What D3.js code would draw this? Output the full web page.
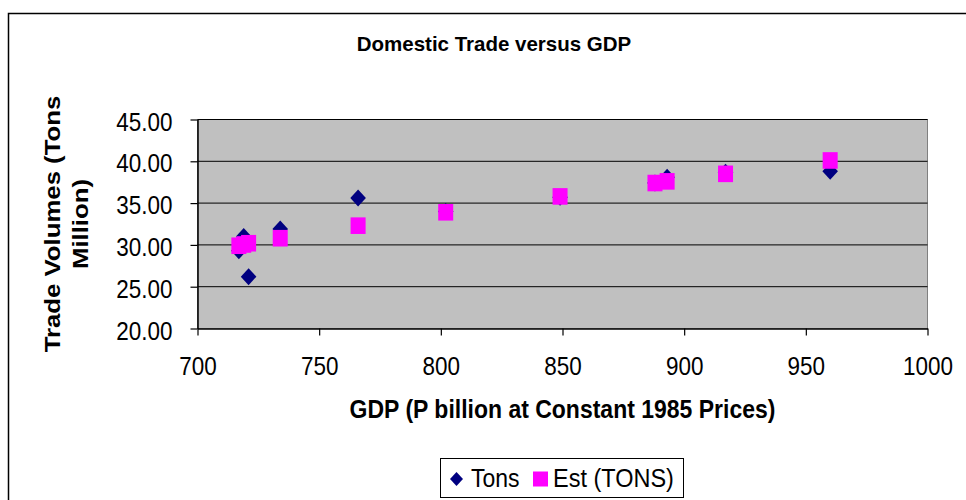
<!DOCTYPE html>
<html><head><meta charset="utf-8">
<script src="https://cdn.jsdelivr.net/npm/d3@7"></script>
<style>body{margin:0;background:#fff}svg{display:block}text{font-family:"Liberation Sans",Arial,sans-serif}</style>
</head><body><svg id="c" width="966" height="500"></svg>
<script>
const gdp  = [717, 719, 721, 734, 766, 802, 849, 888, 893, 917, 960];
const tons = [29.3, 31.0, 26.2, 31.9, 35.6, 34.0, 35.7, 37.4, 38.1, 38.7, 38.8];
const est  = [29.9, 30.05, 30.2, 30.8, 32.3, 33.9, 35.8, 37.4, 37.6, 38.5, 40.1];
const xTicks = [700, 750, 800, 850, 900, 950, 1000];
const yTicks = [20, 25, 30, 35, 40, 45];
const titleText = "Domestic Trade versus GDP";
const xLabel = "GDP (P billion at Constant 1985 Prices)";
const yLabel = ["Trade Volumes (Tons", "Million)"];
const legendNames = ["Tons", "Est (TONS)"];

const svg = d3.select("#c");
const SY = 1.12;
const x = d3.scaleLinear().domain([700, 1000]).range([197.5, 927.5]);
const y = d3.scaleLinear().domain([20, 45]).range([328.5, 119.5]);

// outer border
svg.append("rect").attr("x", 8.5).attr("y", 13.5).attr("width", 1200).attr("height", 1000)
  .attr("fill", "#fff").attr("stroke", "#000").attr("stroke-width", 1.5);

// plot area
svg.append("rect").attr("x", x(700)).attr("y", y(45)).attr("width", x(1000) - x(700)).attr("height", y(20) - y(45))
  .attr("fill", "#C0C0C0").attr("stroke", "#808080").attr("stroke-width", 1);

// gridlines
svg.append("g").selectAll("line").data(yTicks.filter(d => d > 20)).join("line")
  .attr("x1", x(700)).attr("x2", x(1000)).attr("y1", d => y(d)).attr("y2", d => y(d))
  .attr("stroke", "#000").attr("stroke-width", 1);

// axes
const xAxis = svg.append("g").attr("transform", `translate(0,${y(20)})`)
  .call(d3.axisBottom(x).tickValues(xTicks).tickSize(7).tickSizeOuter(0).tickFormat(d3.format("d")));
const yAxis = svg.append("g").attr("transform", `translate(${x(700)},0)`)
  .call(d3.axisLeft(y).tickValues(yTicks).tickSize(7).tickSizeOuter(0).tickFormat(d3.format(".2f")));
[xAxis, yAxis].forEach(a => {
  a.select(".domain").attr("stroke", "#000").attr("stroke-width", 1.5);
  a.selectAll(".tick line").attr("stroke", "#000").attr("stroke-width", 1.2);
  a.selectAll(".tick text").attr("fill", "#000").style("font-size", "22.5px").attr("dy", null);
});
xAxis.selectAll(".tick text").attr("y", 0)
  .attr("transform", `translate(0,${375 - y(20)}) scale(1,${SY})`);
yAxis.selectAll(".tick text").attr("x", 0).attr("y", 0).attr("text-anchor", "end")
  .attr("transform", `translate(-25,10.5) scale(1,${SY})`);

// series: diamonds then squares
const pts = gdp.map((g, i) => ({g, t: tons[i], e: est[i]}));
const diamond = "M0,-8.5L7.8,0L0,8.5L-7.8,0Z";
svg.append("g").selectAll("path").data(pts).join("path")
  .attr("d", diamond).attr("fill", "#000080")
  .attr("transform", d => `translate(${x(d.g)},${y(d.t)})`);
svg.append("g").selectAll("rect").data(pts).join("rect")
  .attr("x", d => x(d.g) - 7.5).attr("y", d => y(d.e) - 8.3).attr("width", 15).attr("height", 16.6)
  .attr("fill", "#FF00FF");

// title
svg.append("text").attr("text-anchor", "middle").attr("transform", `translate(494,51)`)
  .style("font-size", "20.5px").style("font-weight", "bold").text(titleText);

// x label
svg.append("text").attr("text-anchor", "middle").attr("transform", `translate(${(x(700)+x(1000))/2},418) scale(1,${SY})`)
  .style("font-size", "23px").style("font-weight", "bold").text(xLabel);

// y label
yLabel.forEach((t, i) => {
  svg.append("text").attr("text-anchor", "middle")
    .attr("transform", `translate(${60 + i * 28},${(y(20)+y(45))/2}) rotate(-90) scale(${SY},1)`)
    .style("font-size", "23px").style("font-weight", "bold").text(t);
});

// legend
const lg = svg.append("g");
lg.append("rect").attr("x", 440.5).attr("y", 458.5).attr("width", 243).attr("height", 39)
  .attr("fill", "#fff").attr("stroke", "#000").attr("stroke-width", 1);
lg.append("path").attr("d", "M0,-7L6.5,0L0,7L-6.5,0Z").attr("fill", "#000080").attr("transform", "translate(456.5,479)");
lg.append("text").attr("transform", `translate(471,487) scale(1,${SY})`).style("font-size", "23px").text(legendNames[0]);
lg.append("rect").attr("x", 533).attr("y", 471.5).attr("width", 15).attr("height", 15).attr("fill", "#FF00FF");
lg.append("text").attr("transform", `translate(553,487) scale(1,${SY})`).style("font-size", "23.5px").text(legendNames[1]);
</script></body></html>
